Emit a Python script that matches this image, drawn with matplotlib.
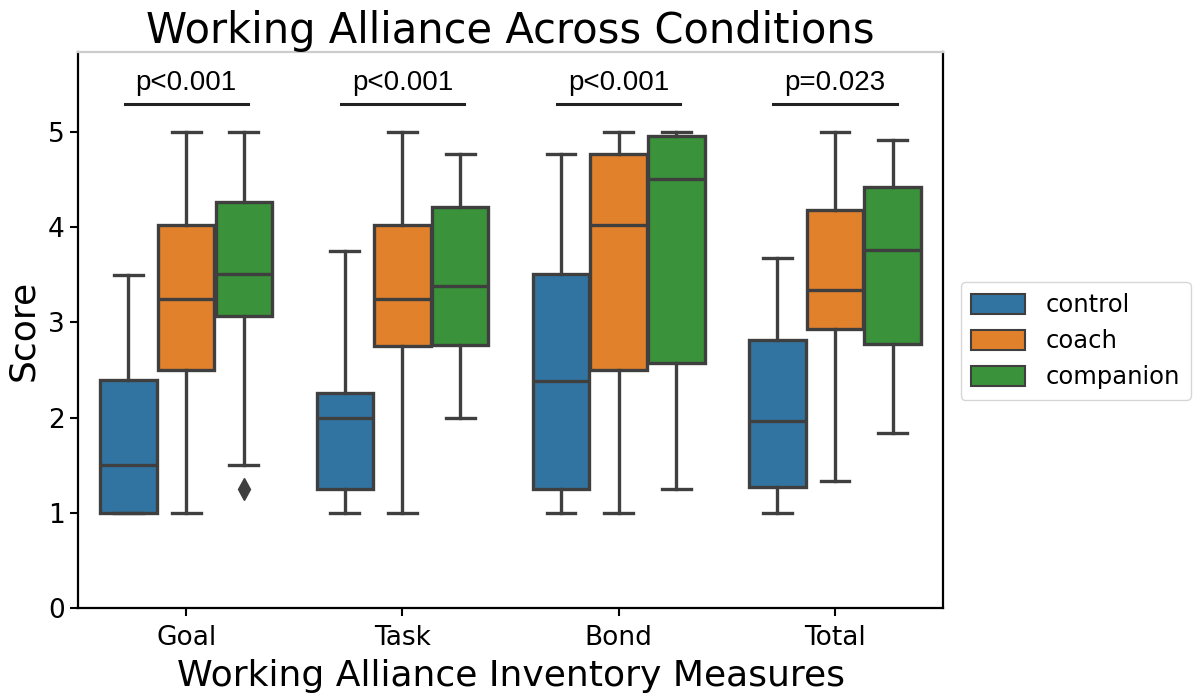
import matplotlib
matplotlib.use("Agg")
import matplotlib.pyplot as plt
from matplotlib.patches import Patch

# Box statistics (whisker low, Q1, median, Q3, whisker high)
measures = ["Goal", "Task", "Bond", "Total"]
groups = ["control", "coach", "companion"]
colors = ["#3274a1", "#e1812c", "#3a923a"]

control_stats = [
    (1.00, 1.00, 1.50, 2.40, 3.50),
    (1.00, 1.25, 2.00, 2.26, 3.75),
    (1.00, 1.25, 2.38, 3.51, 4.77),
    (1.00, 1.27, 1.96, 2.82, 3.68),
]
coach_stats = [
    (1.00, 2.50, 3.25, 4.02, 5.00),
    (1.00, 2.75, 3.25, 4.02, 5.00),
    (1.00, 2.50, 4.02, 4.77, 5.00),
    (1.33, 2.93, 3.34, 4.18, 5.00),
]
companion_stats = [
    (1.50, 3.07, 3.51, 4.27, 5.00),
    (2.00, 2.76, 3.38, 4.21, 4.77),
    (1.25, 2.57, 4.51, 4.96, 5.00),
    (1.84, 2.77, 3.76, 4.42, 4.92),
]
fliers = {("companion", "Goal"): [1.25]}

p_labels = ["p<0.001", "p<0.001", "p<0.001", "p=0.023"]

all_stats = [control_stats, coach_stats, companion_stats]
edge = "#3f3f3f"
width = 0.8 / 3

fig = plt.figure(figsize=(12, 6.99), dpi=100)
ax = fig.add_axes([0.065, 0.13, 0.721, 0.7956])

for g, (grp, stats, col) in enumerate(zip(groups, all_stats, colors)):
    offset = (g - 1) * width
    bxp_stats = []
    for i, (lo, q1, med, q3, hi) in enumerate(stats):
        bxp_stats.append(dict(whislo=lo, q1=q1, med=med, q3=q3, whishi=hi,
                              fliers=fliers.get((grp, measures[i]), [])))
    ax.bxp(bxp_stats, positions=[i + offset for i in range(len(measures))],
           widths=width * 0.98, patch_artist=True, manage_ticks=False,
           boxprops=dict(facecolor=col, edgecolor=edge, linewidth=2.4),
           medianprops=dict(color=edge, linewidth=2.4),
           whiskerprops=dict(color=edge, linewidth=2.4),
           capprops=dict(color=edge, linewidth=2.4),
           capwidths=width * 0.5,
           flierprops=dict(marker="d", markerfacecolor=edge, markeredgecolor=edge,
                           markersize=11))

# significance annotations
for i, lab in enumerate(p_labels):
    ax.plot([i - 0.285, i + 0.285], [5.29, 5.29], color="#222222", lw=2.2)
    ax.text(i, 5.44, lab, ha="center", va="baseline", fontsize=20,
            family="Liberation Sans")

ax.set_xlim(-0.5, 3.5)
ax.set_ylim(0, 5.84)
ax.set_xticks(range(len(measures)))
ax.set_xticklabels(measures)
ax.set_yticks([0, 1, 2, 3, 4, 5])
ax.tick_params(labelsize=19, width=1.5, length=6)
ax.tick_params(axis="x", pad=6)
for s in ax.spines.values():
    s.set_linewidth(1.6)
ax.spines["top"].set_color("#cccccc")

ax.set_title("Working Alliance Across Conditions", fontsize=30, pad=0)
ax.set_xlabel("Working Alliance Inventory Measures", fontsize=26, labelpad=6)
ax.set_ylabel("Score", fontsize=26, labelpad=6)

handles = [Patch(facecolor=c, edgecolor=edge, linewidth=1.5, label=g)
           for g, c in zip(groups, colors)]
ax.legend(handles=handles, loc="center left", bbox_to_anchor=(1.02, 0.48),
          borderaxespad=0, fontsize=17.5, handlelength=2.2, handleheight=0.9,
          handletextpad=0.85, borderpad=0.45)

fig.savefig("out.png", dpi=100)
